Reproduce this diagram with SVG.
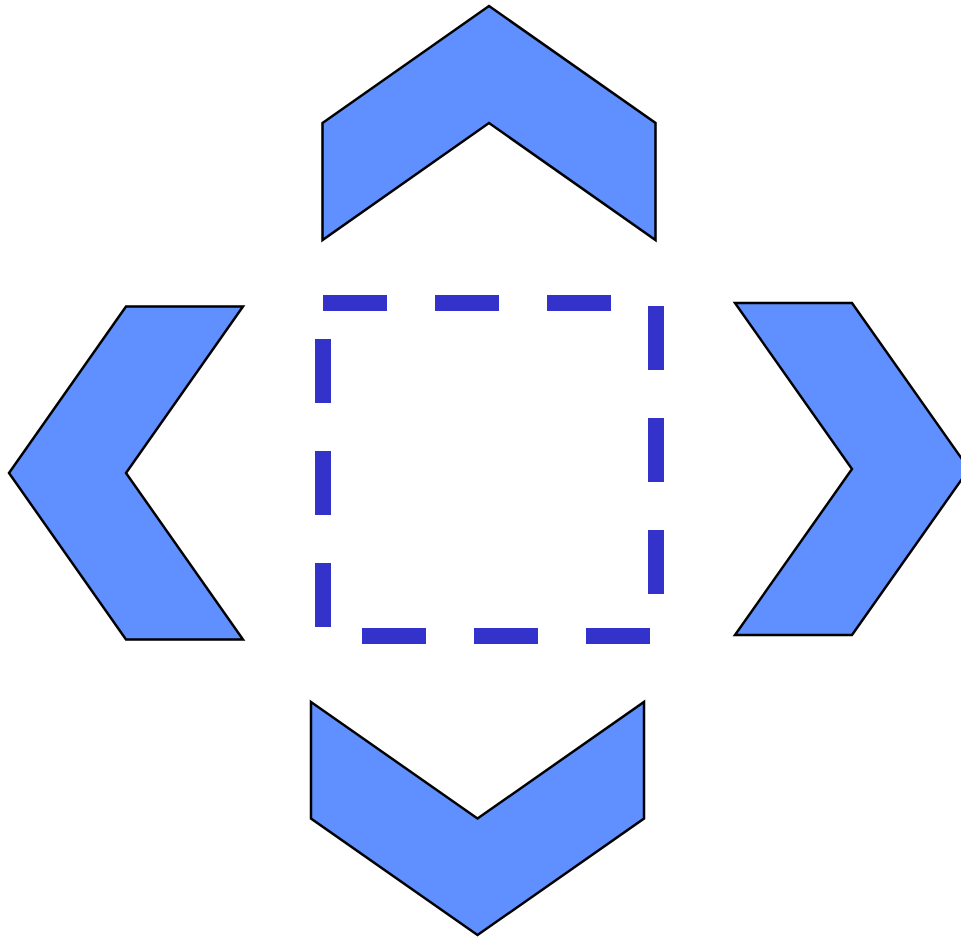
<svg xmlns="http://www.w3.org/2000/svg" width="961" height="938" viewBox="0 0 961 938">
<style>
.chev{fill:#6090ff;stroke:#000;stroke-width:2.5;stroke-linejoin:miter}
.box{fill:none;stroke:#3333cc;stroke-width:16;stroke-dasharray:64 48}
</style>
<rect width="961" height="938" fill="#fff"/>
<g id="up"><polygon class="chev" points="322.5,123 489,6 655.5,123 655.5,240 489,123 322.5,240"/></g>
<g id="left"><polygon class="chev" points="126,306.5 243,306.5 126,473 243,639.5 126,639.5 9,473"/></g>
<g id="right"><polygon class="chev" points="735,303 852,303 969,469 852,635 735,635 852,469"/></g>
<g id="down"><polygon class="chev" points="311,702 477.5,818.5 644,702 644,818.5 477.5,935 311,818.5"/></g>
<g id="center"><path class="box" d="M323,303 H656 V636 H323 Z"/></g>
</svg>
